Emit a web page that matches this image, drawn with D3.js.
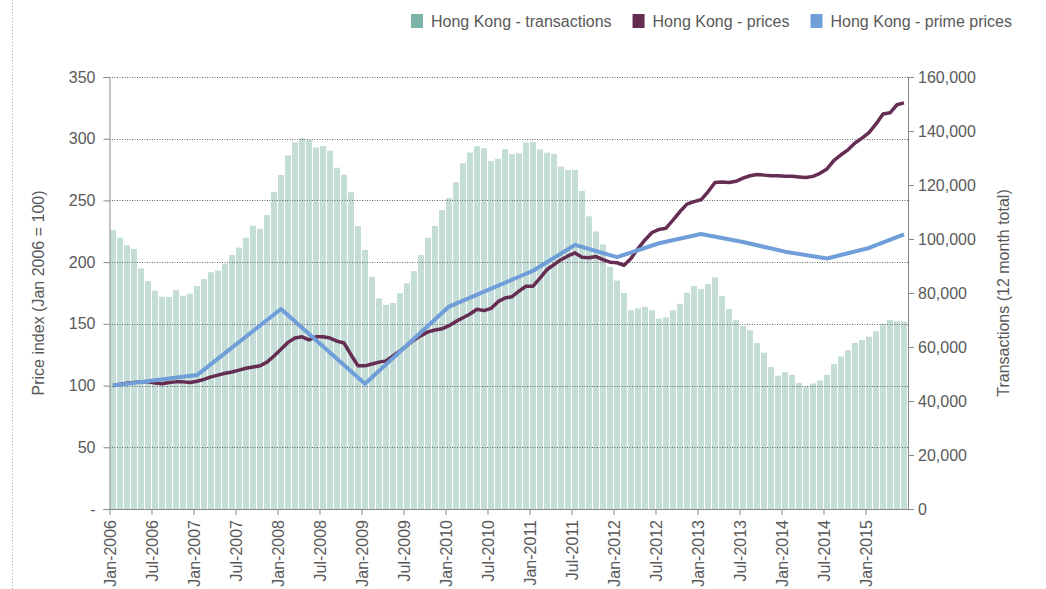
<!DOCTYPE html>
<html>
<head>
<meta charset="utf-8">
<script src="https://cdn.jsdelivr.net/npm/d3@7/dist/d3.min.js"></script>
<style>
  body { margin: 0; background: #fff; }
  svg { display: block; font-family: "Liberation Sans", Arial, sans-serif; }
</style>
</head>
<body>
<div class="chart"></div>
<script>
// monthly data, Jan-2006 .. Jun-2015
var tickLabels = ["Jan-2006","Jul-2006","Jan-2007","Jul-2007","Jan-2008","Jul-2008","Jan-2009","Jul-2009",
  "Jan-2010","Jul-2010","Jan-2011","Jul-2011","Jan-2012","Jul-2012","Jan-2013","Jul-2013",
  "Jan-2014","Jul-2014","Jan-2015"];

// 12 month total transactions
var transactions = [
  103300,100500,97700,96300,89100,84400,80900,78600,78500,81100,79000,79800,
  82600,85200,87700,88300,90900,94100,96800,100500,104900,103800,108900,117400,
  123700,131000,135800,137300,136700,133900,134400,132700,126400,123800,117300,104800,
  95900,86000,78000,75600,76300,79900,83600,88100,94100,100400,104800,110700,
  115200,121000,128100,132000,134400,133600,128900,129700,133300,131400,131700,135700,
  135900,133200,132000,131500,126800,125600,125600,117800,108400,102800,98000,89700,
  84600,80000,73600,74300,74900,73600,70500,71000,73600,76000,80100,82600,
  81500,83300,85800,78900,74100,70000,67800,66200,61500,57900,52600,49400,
  50700,49700,46700,45300,46500,47600,49700,53700,56500,58800,61500,62600,
  63800,65800,68600,70000,69600,69500
];

// price index
var prices = [
  100,101,102,102.5,103,103,102,101.5,102.5,103,103,102.5,
  103.5,105,107,108.5,110,111,112.5,114,115,116,119,124,
  129.5,135,138.5,139.5,137,139.5,139.5,138.5,136,134.5,125,116,
  116,117.5,119,120,124,128,132.5,137,140.5,143.5,145,146,
  148.5,152,155,158,161.8,160.7,162.5,168,171,172,176.5,180.5,
  180.5,187,194,198,202,205,207.5,204,203.5,204.5,202,200,
  199.5,197.5,203,211,218,224,226.5,227.5,234,241,247,249,
  250.5,257,264.5,265,264.5,265.5,268,270,271,270.5,270,270,
  269.5,269.5,269,268.5,269.5,272,275.5,282.5,287,291,296.5,300.5,
  305,312,320,321,327.5,329
];

// prime price index (observations only)
var primeDates = ["Jan-2006","Jan-2007","Jan-2008","Jan-2009","Jan-2010","Jan-2011","Jul-2011","Jan-2012",
  "Jul-2012","Jan-2013","Jul-2013","Jan-2014","Jul-2014","Jan-2015","Jun-2015"];
var primePrices = [100,108.5,162,101.5,164,193,214,204,215.3,222.8,216.3,208.5,203,211.5,222.5];

var svgWidth = 1046, svgHeight = 589;
var plot = { left: 109.5, right: 907.5, top: 77, bottom: 509 };

var months = d3.timeMonth.range(new Date(2006, 0, 1), new Date(2015, 6, 1));
var fmt = d3.timeFormat("%b-%Y");
var monthIndex = {};
months.forEach(function(m, i) { monthIndex[fmt(m)] = i; });

var svg = d3.select(".chart").append("svg")
  .attr("width", svgWidth)
  .attr("height", svgHeight);

// dotted border on the left
svg.append("line")
  .attr("x1", 12.5).attr("x2", 12.5)
  .attr("y1", 0).attr("y2", svgHeight)
  .attr("stroke", "#aaa")
  .attr("stroke-dasharray", "1,2");

var x = d3.scaleLinear().domain([0, months.length]).range([plot.left, plot.right]);
var yLeft = d3.scaleLinear().domain([0, 350]).range([plot.bottom, plot.top]);
var yRight = d3.scaleLinear().domain([0, 160000]).range([plot.bottom, plot.top]);

// bars
svg.append("g").selectAll("rect")
  .data(transactions)
  .enter().append("rect")
  .attr("x", function(d, i) { return x(i) + 0.5; })
  .attr("width", x(1) - x(0) - 1)
  .attr("y", function(d) { return yRight(d); })
  .attr("height", function(d) { return plot.bottom - yRight(d); })
  .attr("fill", "#c5ddd7");

// gridlines
svg.append("g").selectAll("line")
  .data(d3.range(50, 351, 50))
  .enter().append("line")
  .attr("x1", plot.left).attr("x2", plot.right + 0.5)
  .attr("y1", function(d) { return Math.round(yLeft(d)) + 0.5; })
  .attr("y2", function(d) { return Math.round(yLeft(d)) + 0.5; })
  .attr("stroke", "#666")
  .attr("stroke-width", 1)
  .attr("stroke-dasharray", "1,1.5");

// lines
var priceLine = d3.line()
  .x(function(d, i) { return x(i + 0.5); })
  .y(function(d) { return yLeft(d); });

svg.append("path")
  .attr("d", priceLine(prices))
  .attr("fill", "none")
  .attr("stroke", "#652d52")
  .attr("stroke-width", 3.5)
  .attr("stroke-linejoin", "round");

var primeLine = d3.line()
  .x(function(d) { return x(monthIndex[d.date] + 0.5); })
  .y(function(d) { return yLeft(d.value); });

svg.append("path")
  .attr("d", primeLine(primeDates.map(function(d, i) { return { date: d, value: primePrices[i] }; })))
  .attr("fill", "none")
  .attr("stroke", "#6f9ed8")
  .attr("stroke-width", 4)
  .attr("stroke-linejoin", "round");

// axes
var leftAxis = d3.axisLeft(yLeft)
  .tickValues(d3.range(0, 351, 50))
  .tickSize(6).tickPadding(8)
  .tickFormat(function(d) { return d === 0 ? "-" : d; });
var rightAxis = d3.axisRight(yRight)
  .tickValues(d3.range(0, 160001, 20000))
  .tickSize(6).tickPadding(4)
  .tickFormat(d3.format(","));
var bottomAxis = d3.axisBottom(x)
  .tickValues(d3.range(0, tickLabels.length * 6, 6))
  .tickSize(6).tickPadding(4)
  .tickFormat(function(d) { return tickLabels[d / 6]; });

function styleAxis(g) {
  g.select(".domain").attr("stroke", "#888");
  g.selectAll(".tick line").attr("stroke", "#888");
  g.selectAll(".tick text").attr("fill", "#595959").style("font-size", "16px");
}

svg.append("g")
  .attr("transform", "translate(" + plot.left + ",0)")
  .call(leftAxis)
  .call(styleAxis);

svg.append("g")
  .attr("transform", "translate(" + (plot.right + 0.5) + ",0)")
  .call(rightAxis)
  .call(styleAxis);

var xg = svg.append("g")
  .attr("transform", "translate(0," + plot.bottom + ")")
  .call(bottomAxis)
  .call(styleAxis);
xg.select(".domain").attr("d", "M" + plot.left + ",0.5H" + (plot.right + 0.5));
xg.selectAll(".tick text")
  .attr("transform", "rotate(-90)")
  .attr("text-anchor", "end")
  .attr("x", -11)
  .attr("y", 0)
  .attr("dy", "0.35em");

// axis titles
svg.append("text")
  .attr("transform", "translate(44," + ((plot.top + plot.bottom) / 2) + ") rotate(-90)")
  .attr("text-anchor", "middle")
  .attr("fill", "#595959")
  .style("font-size", "16px")
  .text("Price index (Jan 2006 = 100)");

svg.append("text")
  .attr("transform", "translate(1009," + ((plot.top + plot.bottom) / 2) + ") rotate(-90)")
  .attr("text-anchor", "middle")
  .attr("fill", "#595959")
  .style("font-size", "16px")
  .text("Transactions (12 month total)");

// legend
var legendItems = [
  { name: "Hong Kong - transactions", color: "#7db4a9" },
  { name: "Hong Kong - prices", color: "#652d52" },
  { name: "Hong Kong - prime prices", color: "#6f9ed8" }
];
var legend = svg.append("g");
var lx = 411;
legendItems.forEach(function(item) {
  var g = legend.append("g").attr("transform", "translate(" + lx + ",0)");
  g.append("rect").attr("x", 0).attr("y", 14).attr("width", 12).attr("height", 14).attr("fill", item.color);
  var t = g.append("text").attr("x", 20).attr("y", 27)
    .attr("fill", "#595959").style("font-size", "16px").text(item.name);
  lx += 20 + t.node().getComputedTextLength() + 21;
});
</script>
</body>
</html>
